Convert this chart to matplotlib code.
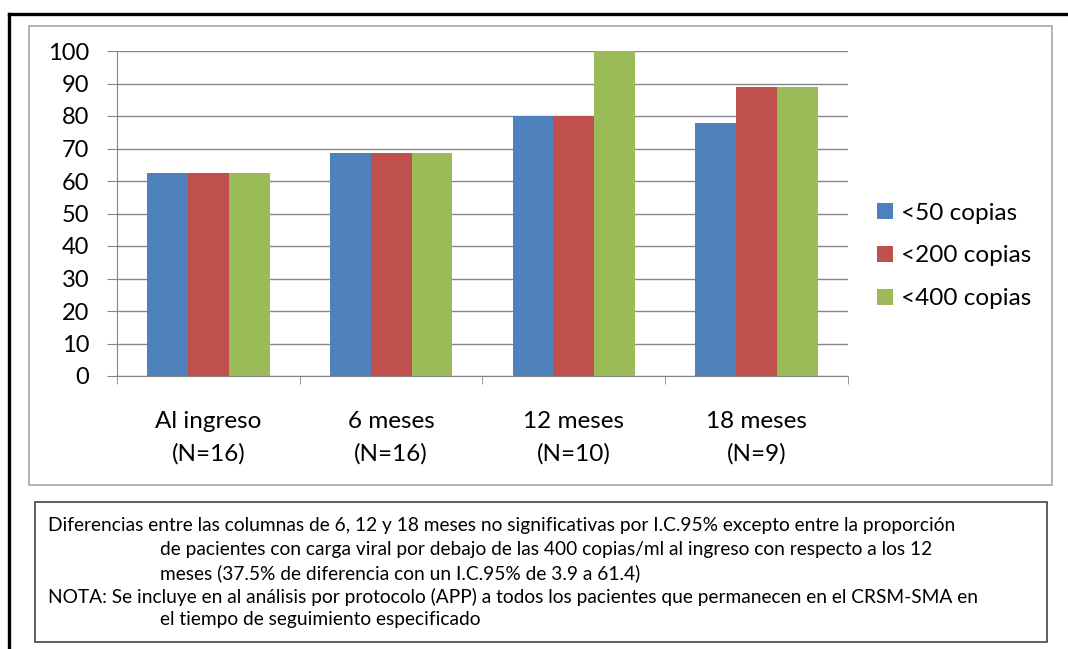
import matplotlib
matplotlib.use("Agg")
import matplotlib.pyplot as plt
from matplotlib.patches import Rectangle
from matplotlib.lines import Line2D
import numpy as np

categories = ["Al ingreso\n(N=16)", "6 meses\n(N=16)", "12 meses\n(N=10)", "18 meses\n(N=9)"]
series_names = ["<50 copias", "<200 copias", "<400 copias"]
menos_50 = [62.5, 68.75, 80.0, 77.8]
menos_200 = [62.5, 68.75, 80.0, 88.9]
menos_400 = [62.5, 68.75, 100.0, 88.9]
colors = ["#4F81BD", "#C0504D", "#9BBB59"]

nota_lines = [
    "Diferencias entre las columnas de 6, 12 y 18 meses no significativas por I.C.95% excepto entre la proporción",
    "de pacientes con carga viral por debajo de las 400 copias/ml al ingreso con respecto a los 12",
    "meses (37.5% de diferencia con un I.C.95% de 3.9 a 61.4)",
    "NOTA: Se incluye en al análisis por protocolo (APP) a todos los pacientes que permanecen en el CRSM-SMA en",
    "el tiempo de seguimiento especificado",
]
nota_indent = [False, True, True, False, True]

W, H = 1068, 649
plt.rcParams["font.family"] = ["Lato", "DejaVu Sans"]

fig = plt.figure(figsize=(W / 100, H / 100), dpi=100)


def fx(px):
    return px / W


def fy(py):
    return 1 - py / H


# outer black frame (only top and left visible)
fig.add_artist(Line2D([fx(9), fx(1075)], [fy(14), fy(14)], color="black", lw=2.4, transform=fig.transFigure))
fig.add_artist(Line2D([fx(9), fx(9)], [fy(14), fy(660)], color="black", lw=2.4, transform=fig.transFigure))

# chart area box
fig.add_artist(Rectangle((fx(29), fy(485)), fx(1052 - 29), (485 - 26) / H, fill=False,
                         edgecolor="#ABABAB", lw=1.3, transform=fig.transFigure))

ax = fig.add_axes([fx(117), fy(376), fx(848 - 117), (376 - 51) / H])
x = np.arange(len(categories))
width = 0.223
for i, (vals, name) in enumerate(zip([menos_50, menos_200, menos_400], series_names)):
    ax.bar(x + (i - 1) * width, vals, width, color=colors[i], label=name, zorder=3)

ax.set_xlim(-0.5, len(categories) - 0.5)
ax.set_ylim(0, 100)
ax.set_yticks(range(0, 101, 10))
ax.yaxis.grid(True, color="#868686", lw=1.0, zorder=0)
for s in ["top", "right"]:
    ax.spines[s].set_visible(False)
ax.spines["left"].set_color("#868686")
ax.spines["bottom"].set_color("#868686")
ax.tick_params(axis="y", length=7, color="#868686", labelsize=17, pad=13)
ax.set_xticks(x)
ax.set_xticklabels(categories, fontsize=17.5, linespacing=1.62)
ax.tick_params(axis="x", length=0, pad=25.5)
ax.set_xticks(np.arange(-0.5, len(categories), 1.0), minor=True)
ax.tick_params(axis="x", which="minor", length=6, color="#868686")

handles, labels = ax.get_legend_handles_labels()
fig.legend(handles, labels, loc="center left", bbox_to_anchor=(fx(855), fy(256)),
           frameon=False, fontsize=17.5, handlelength=0.65, handleheight=0.65,
           handletextpad=0.35, labelspacing=0.9)

# note box
fig.add_artist(Rectangle((fx(35), fy(642)), fx(1047 - 35), (642 - 502) / H, fill=False,
                         edgecolor="#333333", lw=1.1, transform=fig.transFigure))
line_y = 526
for txt, ind in zip(nota_lines, nota_indent):
    fig.text(fx(160 if ind else 48), fy(line_y), txt, fontsize=13.8, va="center", ha="left")
    line_y += 23.5

fig.savefig("out.png", dpi=100)
